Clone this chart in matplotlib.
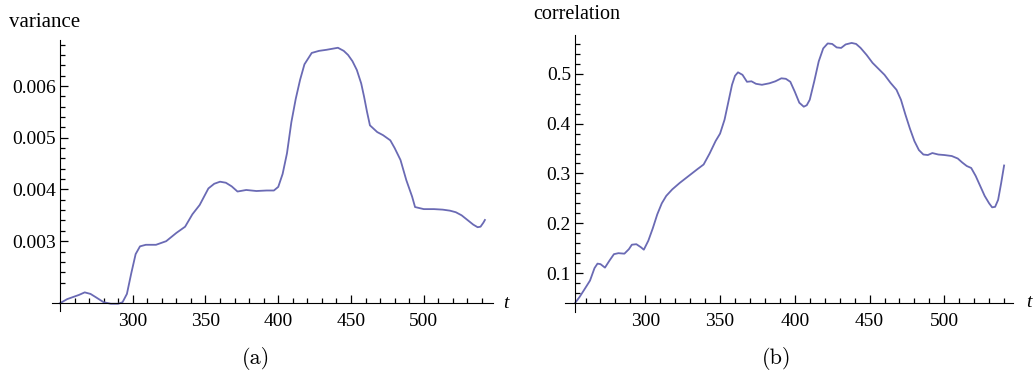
import matplotlib
matplotlib.use('Agg')
import matplotlib.pyplot as plt

# variance of the series against time t
var_t = [250, 255, 259, 263, 267, 271, 275, 280, 285, 290, 293, 296, 299, 302, 305,
         309, 316, 323, 330, 336, 341, 346, 352, 356, 360, 364, 368, 372, 378, 385,
         392, 397, 400, 403, 406, 409, 412, 415, 418, 423, 428, 433, 437, 441, 445,
         448, 451, 454, 457, 459, 461, 463, 468, 472, 477, 480, 484, 488, 492, 494,
         500, 507, 513, 518, 522, 526, 530, 534, 537, 539, 541, 542]
var_v = [0.00180, 0.00188, 0.00192, 0.00196, 0.00201, 0.00198, 0.00191, 0.00182, 0.00179,
         0.00179, 0.00182, 0.00198, 0.00238, 0.00275, 0.00290, 0.00293, 0.00293, 0.00300,
         0.00316, 0.00328, 0.00352, 0.00370, 0.00402, 0.00411, 0.00415, 0.00413, 0.00406,
         0.00396, 0.00399, 0.00397, 0.00398, 0.00398, 0.00405, 0.00430, 0.00470, 0.00530,
         0.00575, 0.00612, 0.00642, 0.00664, 0.00668, 0.00670, 0.00672, 0.00674, 0.00668,
         0.00660, 0.00648, 0.00631, 0.00605, 0.00579, 0.00550, 0.00524, 0.00511, 0.00505,
         0.00495, 0.00480, 0.00457, 0.00418, 0.00386, 0.00366, 0.00362, 0.00362, 0.00361,
         0.00359, 0.00356, 0.00350, 0.00341, 0.00332, 0.00327, 0.00328, 0.00336, 0.00341]

# correlation against time t
cor_t = [253, 256, 259, 263, 266, 268, 270, 273, 276, 279, 282, 286, 289, 291, 294,
         297, 299, 302, 305, 308, 311, 314, 318, 323, 329, 335, 339, 343, 347, 350,
         353, 356, 358, 360, 362, 365, 368, 371, 374, 378, 383, 387, 391, 394, 397,
         400, 403, 406, 408, 410, 413, 416, 419, 422, 425, 428, 431, 434, 438, 441,
         444, 448, 452, 456, 460, 464, 468, 471, 474, 477, 480, 483, 486, 489, 492,
         496, 500, 505, 509, 512, 515, 518, 521, 524, 527, 530, 532, 534, 536, 538, 540]
cor_v = [0.040, 0.052, 0.066, 0.085, 0.110, 0.119, 0.118, 0.111, 0.125, 0.138, 0.140,
         0.139, 0.148, 0.157, 0.158, 0.152, 0.147, 0.165, 0.190, 0.218, 0.240, 0.255,
         0.268, 0.281, 0.295, 0.309, 0.318, 0.340, 0.365, 0.380, 0.408, 0.450, 0.478,
         0.496, 0.503, 0.498, 0.484, 0.485, 0.480, 0.478, 0.481, 0.485, 0.491, 0.490,
         0.484, 0.464, 0.442, 0.434, 0.437, 0.448, 0.485, 0.525, 0.551, 0.561, 0.560,
         0.553, 0.552, 0.559, 0.562, 0.560, 0.552, 0.538, 0.522, 0.510, 0.498, 0.482,
         0.468, 0.448, 0.418, 0.390, 0.365, 0.347, 0.338, 0.337, 0.341, 0.338, 0.337,
         0.335, 0.330, 0.322, 0.315, 0.311, 0.295, 0.275, 0.255, 0.240, 0.232, 0.233,
         0.247, 0.280, 0.316]

var_yticks = [0.003, 0.004, 0.005, 0.006]
cor_yticks = [0.1, 0.2, 0.3, 0.4, 0.5]
t_ticks = [300, 350, 400, 450, 500]

LINE = '#6a6ab4'
SERIF = 'Liberation Serif'

fig = plt.figure(figsize=(10.33, 3.76), dpi=100)

# left panel: variance
ax1 = fig.add_axes([0.0503, 0.1729, 0.427, 0.7207])
ax1.plot(var_t, var_v, color=LINE, lw=1.3, solid_joinstyle='round')
ax1.set_xlim(244.5, 547.6)
ax1.set_ylim(0.00165, 0.00689)
ax1.spines['left'].set_position(('data', 250))
ax1.spines['bottom'].set_position(('data', 0.0018))
ax1.set_yticks(var_yticks)
ax1.set_yticklabels(['%.3f' % v for v in var_yticks])
ax1.set_yticks([0.0020 + 0.0002 * i for i in range(25) if i % 5 != 0], minor=True)
ax1.text(-0.097, 1.03, 'variance', transform=ax1.transAxes, ha='left', va='bottom',
         fontsize=15, family=SERIF)
ax1.text(554.5, 0.0018, 't', fontsize=14, family=SERIF, style='italic',
         va='center', ha='left')

# right panel: correlation
ax2 = fig.add_axes([0.547, 0.171, 0.4337, 0.736])
ax2.plot(cor_t, cor_v, color=LINE, lw=1.3, solid_joinstyle='round')
ax2.set_xlim(246.3, 546)
ax2.set_ylim(0.0225, 0.578)
ax2.spines['left'].set_position(('data', 253))
ax2.spines['bottom'].set_position(('data', 0.04))
ax2.set_yticks(cor_yticks)
ax2.set_yticklabels(['%.1f' % v for v in cor_yticks])
ax2.set_yticks([0.06 + 0.02 * i for i in range(26) if (i + 3) % 5 != 0], minor=True)
ax2.text(-0.07, 1.04, 'correlation', transform=ax2.transAxes, ha='left', va='bottom',
         fontsize=14.5, family=SERIF)
ax2.text(554.5, 0.04, 't', fontsize=14, family=SERIF, style='italic',
         va='center', ha='left')

for ax in (ax1, ax2):
    for s in ['top', 'right']:
        ax.spines[s].set_visible(False)
    ax.set_xticks(t_ticks)
    ax.set_xticklabels([str(t) for t in t_ticks])
    ax.set_xticks([t for t in range(260, 541, 10) if t % 50], minor=True)
    ax.tick_params(which='both', direction='in', width=0.9)
    ax.tick_params(which='major', length=6)
    ax.tick_params(which='minor', length=3.5)
    ax.tick_params(axis='x', pad=7)
    ax.tick_params(axis='y', pad=3)
    for lab in ax.get_xticklabels() + ax.get_yticklabels():
        lab.set_fontfamily(SERIF)
        lab.set_fontsize(14)

fig.text(256 / 1033, 1 - 359 / 376, '(a)', fontsize=16, family='cmr10',
         ha='center', va='center')
fig.text(777 / 1033, 1 - 359 / 376, '(b)', fontsize=16, family='cmr10',
         ha='center', va='center')

fig.savefig('out.png', dpi=100)
